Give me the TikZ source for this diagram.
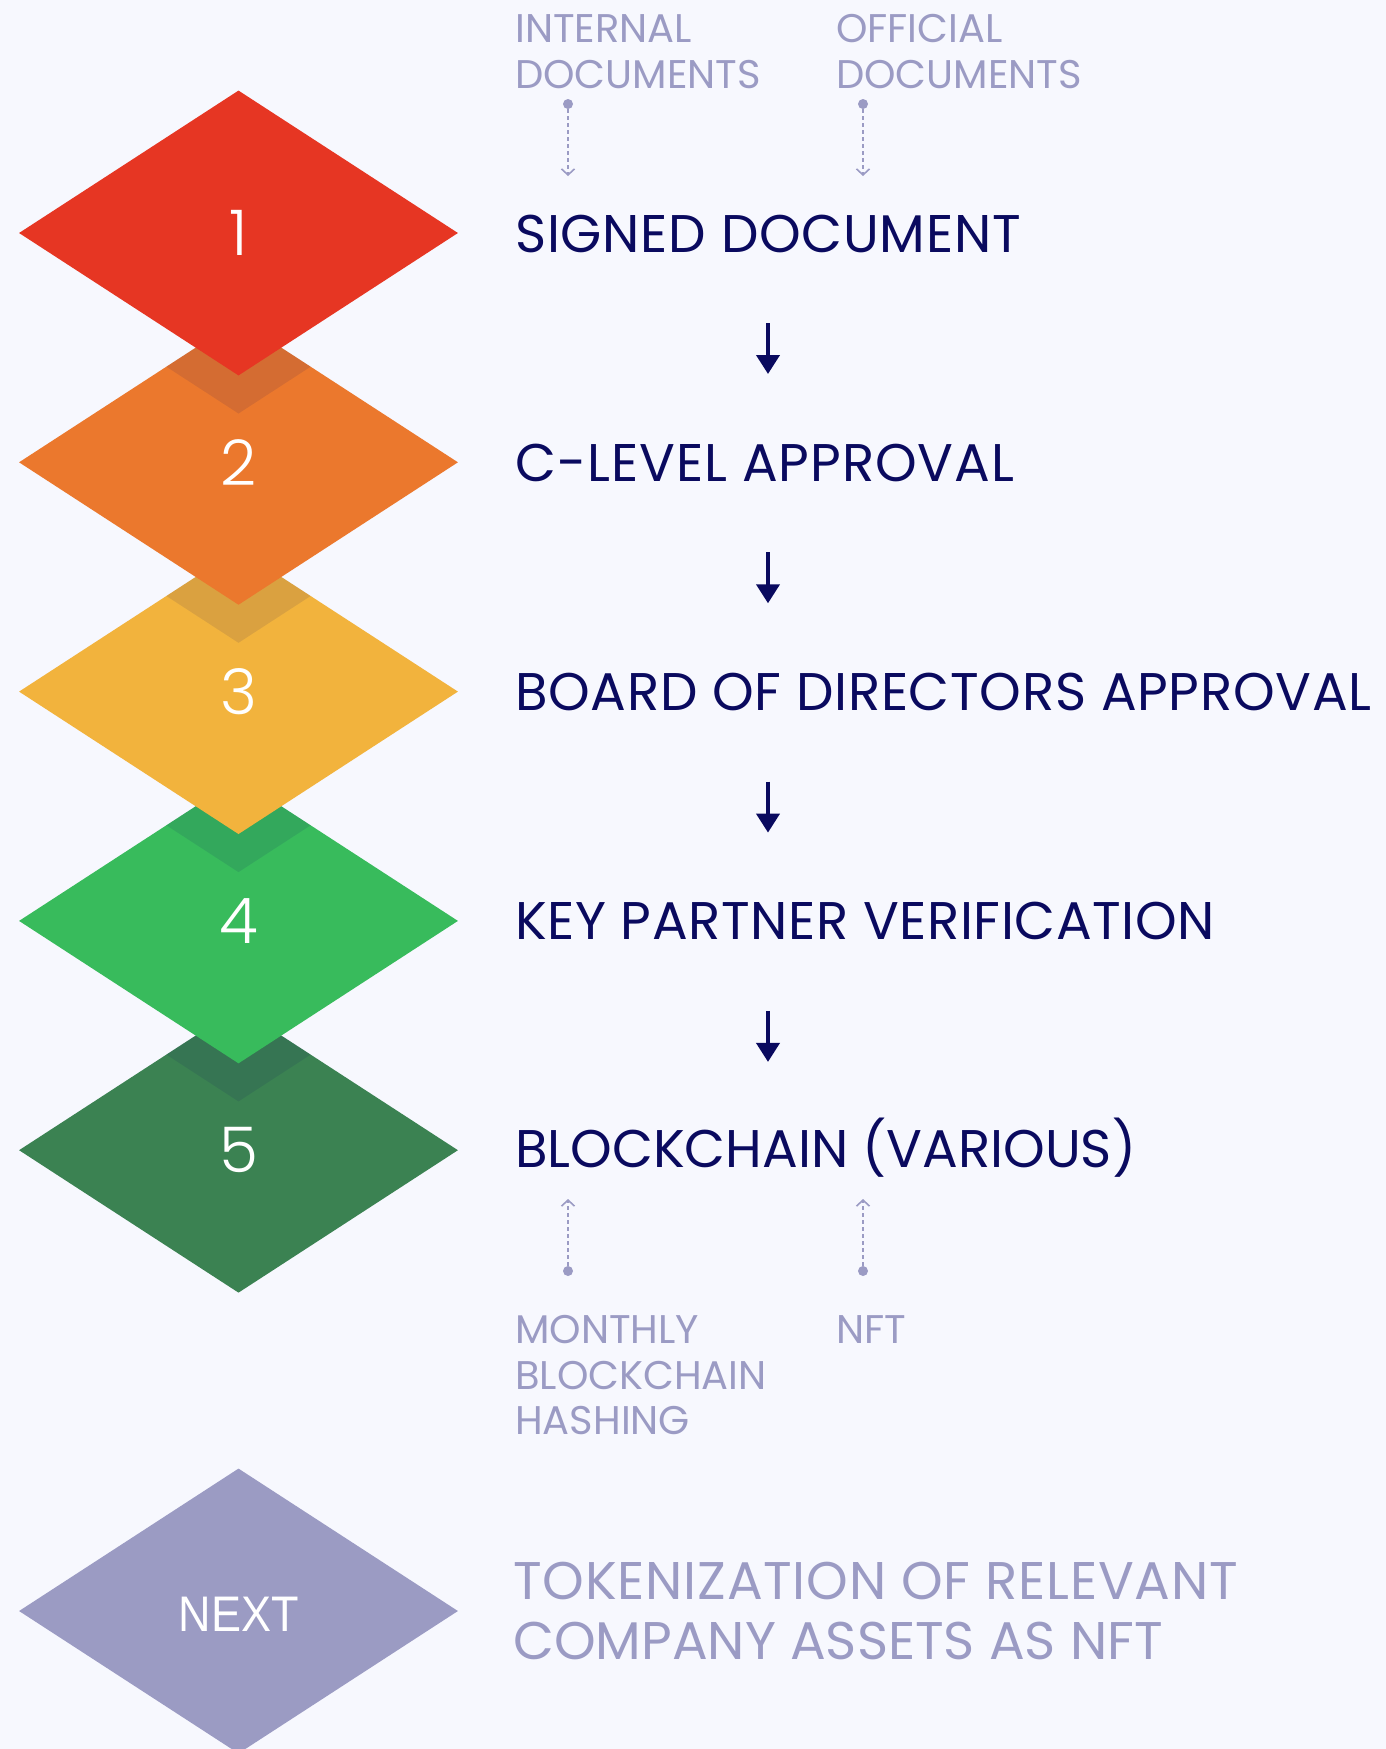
\documentclass[tikz,border=0pt]{standalone}
\usepackage{fontspec}
\setmainfont{Poppins}
\newfontfamily\numfont{Poppins Light}
\newfontfamily\nextfont[FakeStretch=0.9]{Liberation Sans}
\usetikzlibrary{arrows.meta,shapes.geometric}
\definecolor{bg}{HTML}{F7F8FE}
\definecolor{navy}{HTML}{0A0A5F}
\definecolor{lav}{HTML}{9B9BC4}
\definecolor{cred}{HTML}{E63623}
\definecolor{corange}{HTML}{EB782D}
\definecolor{cyellow}{HTML}{F2B33D}
\definecolor{cgreen}{HTML}{38BB5C}
\definecolor{cdgreen}{HTML}{3B8252}
\definecolor{cnext}{HTML}{9B9BC3}
\tikzset{
  x=1pt, y=-1pt,
  dia/.style={diamond, draw=none, inner sep=0pt, minimum width=439pt, minimum height=285pt},
  numtxt/.style={text=white, font=\numfont\fontsize{63}{63}\selectfont, inner sep=0pt},
  steptxt/.style={anchor=base west, inner sep=0pt, text=navy, font=\fontsize{53}{53}\selectfont\addfontfeature{LetterSpace=#1}},
  steptxt/.default=1.3,
  smalltxt/.style={anchor=base west, inner sep=0pt, text=lav, font=\fontsize{40}{40}\selectfont},
  nexttxt/.style={anchor=base west, inner sep=0pt, text=lav, font=\fontsize{53}{53}\selectfont\addfontfeature{LetterSpace=#1}},
  nexttxt/.default=0,
  mainarrow/.style={draw=navy, line width=4pt, -{Triangle[width=23pt,length=19pt]}},
  dasharrow/.style={draw=lav, line width=1.6pt, dash pattern=on 4pt off 3pt, -{Straight Barb[width=13pt,length=6pt,line width=1.6pt]}},
  dotnode/.style={circle, fill=lav, inner sep=0pt, minimum size=10pt},
  shade/.style={fill=navy, fill opacity=0.1}
}
\newcommand{\diapath}[2]{(#1-219.5,#2) -- (#1,#2-142.5) -- (#1+219.5,#2) -- (#1,#2+142.5) -- cycle}
\begin{document}
\begin{tikzpicture}
\fill[bg] (0,0) rectangle (1386,1749);
\useasboundingbox (0,0) rectangle (1386,1749);
% diamonds bottom to top
\node[dia, fill=cdgreen] (d5) at (238.5,1150.2) {};
\begin{scope}\clip \diapath{238.5}{1150.2}; \fill[shade] \diapath{238.5}{958.9}; \end{scope}
\node[dia, fill=cgreen] (d4) at (238.5,920.9) {};
\begin{scope}\clip \diapath{238.5}{920.9}; \fill[shade] \diapath{238.5}{729.6}; \end{scope}
\node[dia, fill=cyellow] (d3) at (238.5,691.6) {};
\begin{scope}\clip \diapath{238.5}{691.6}; \fill[shade] \diapath{238.5}{500.3}; \end{scope}
\node[dia, fill=corange] (d2) at (238.5,462.3) {};
\begin{scope}\clip \diapath{238.5}{462.3}; \fill[shade] \diapath{238.5}{271}; \end{scope}
\node[dia, fill=cred] (d1) at (238.5,233) {};
\node[dia, fill=cnext] (dn) at (238.5,1611) {};
% numbers
\node[numtxt] (n1) at (d1.center) {1};
\node[numtxt] (n2) at (d2.center) {2};
\node[numtxt] (n3) at (d3.center) {3};
\node[numtxt] (n4) at (d4.center) {4};
\node[numtxt] (n5) at (d5.center) {5};
\node[text=white, inner sep=0pt, font=\nextfont\fontsize{50}{50}\selectfont] (nn) at (239,1614) {NEXT};
% step texts
\node[steptxt=1.4] (t1) at (515,252) {SIGNED DOCUMENT};
\node[steptxt=1.8] (t2) at (515,481.3) {C-LEVEL APPROVAL};
\node[steptxt=1.3] (t3) at (515,710.6) {BOARD OF DIRECTORS APPROVAL};
\node[steptxt=1.1] (t4) at (515,939.9) {KEY PARTNER VERIFICATION};
\node[steptxt=0] (t5) at (515,1167) {BLOCKCHAIN (VARIOUS)};
% main arrows
\foreach \i/\y in {1/323,2/552.3,3/781.6,4/1010.9}{
  \coordinate (as\i) at (768,\y);
  \coordinate (ae\i) at (768,\y+51);
  \draw[mainarrow] (as\i) -- (ae\i);
}
% top labels
\node[smalltxt] (ia) at (515,42) {INTERNAL};
\node[smalltxt] (ib) at (515,88) {DOCUMENTS};
\node[smalltxt] (oa) at (836,42) {OFFICIAL};
\node[smalltxt] (ob) at (836,88) {DOCUMENTS};
\node[dotnode] (dotI) at (568,104) {};
\node[dotnode] (dotO) at (863,104) {};
\coordinate (tipI) at (568,176);
\coordinate (tipO) at (863,176);
\draw[dasharrow] (dotI) -- (tipI);
\draw[dasharrow] (dotO) -- (tipO);
% bottom labels
\node[dotnode] (dotM) at (568,1271) {};
\node[dotnode] (dotN) at (863,1271) {};
\coordinate (tipM) at (568,1199);
\coordinate (tipN) at (863,1199);
\draw[dasharrow] (dotM) -- (tipM);
\draw[dasharrow] (dotN) -- (tipN);
\node[smalltxt] (ma) at (515,1343) {MONTHLY};
\node[smalltxt] (mb) at (515,1389) {BLOCKCHAIN};
\node[smalltxt] (mc) at (515,1434) {HASHING};
\node[smalltxt] (nf) at (836,1343) {NFT};
% next text
\node[nexttxt=1.5] (xa) at (513,1599) {TOKENIZATION OF RELEVANT};
\node[nexttxt] (xb) at (513,1659) {COMPANY ASSETS AS NFT};
\end{tikzpicture}
\end{document}
